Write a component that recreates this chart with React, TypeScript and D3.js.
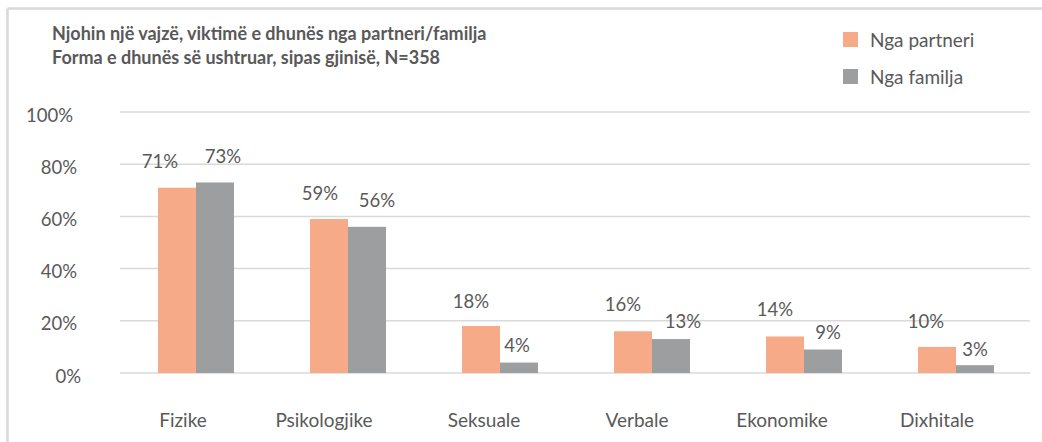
import React from "react";
import * as d3 from "d3";

const categories = ["Fizike", "Psikologjike", "Seksuale", "Verbale", "Ekonomike", "Dixhitale"];
const seriesNames = ["Nga partneri", "Nga familja"];
const partnerValues = [0.71, 0.59, 0.18, 0.16, 0.14, 0.10];
const familyValues = [0.73, 0.56, 0.04, 0.13, 0.09, 0.03];
const yTicks = [0, 0.2, 0.4, 0.6, 0.8, 1.0];
const titleLines = [
  "Njohin një vajzë, viktimë e dhunës nga partneri/familja",
  "Forma e dhunës së ushtruar, sipas gjinisë, N=358",
];

// label nudges (dx from bar centre, dy of baseline from bar top), as placed in the original
const partnerLabelNudge = [[-17, -20], [-9, -19], [-10, -18], [-10, -20], [-10, -20], [-11, -19]];
const familyLabelNudge = [[8, -19], [10, -20], [-2, -11], [12, -11], [5, -11], [0, -9]];
// category label horizontal nudges from band centre, as placed in the original
const categoryLabelNudge = [-13, -24, -16, -15, -22, -19];
// y tick label right edges
const tickLabelRight = [81, 77, 77, 77, 77, 73];

const W = 1042;
const H = 442;
const colors = ["#F7AA88", "#9C9E9F"];
const textColor = "#595959";
const gridColor = "#D9D9D9";
const font = "Lato, 'Open Sans', sans-serif";

export default function App() {
  const x = d3.scaleBand<string>().domain(categories).range([120, 1032]).paddingInner(0.5).paddingOuter(0.25);
  const xs = d3.scaleBand<string>().domain(seriesNames).range([0, x.bandwidth()]);
  const y = d3.scaleLinear().domain([0, 1]).range([373, 112]);
  const fmt = d3.format(".0%");
  const series = [partnerValues, familyValues];
  const nudges = [partnerLabelNudge, familyLabelNudge];

  return (
    <div style={{ position: "fixed", left: 0, top: 0 }}>
      <svg width={W} height={H} style={{ display: "block", background: "#fff" }}>
        {/* frame */}
        <line x1={7.5} x2={7.5} y1={8.5} y2={H} stroke={gridColor} strokeWidth={2.5} />
        <line x1={7.5} x2={W} y1={8.5} y2={8.5} stroke={gridColor} strokeWidth={2.5} />

        {/* title */}
        {titleLines.map((t, i) => (
          <text key={i} x={52} y={40 + i * 24} fontFamily={font} fontWeight={700} fontSize={18} fill={textColor}>
            {t}
          </text>
        ))}

        {/* grid + y labels */}
        {yTicks.map((t, i) => (
          <g key={t}>
            <line x1={120} x2={1030} y1={y(t)} y2={y(t)} stroke={gridColor} strokeWidth={1.5} />
            <text x={tickLabelRight[i]} y={y(t) + 9.5} textAnchor="end" fontFamily={font} fontSize={18.5} fill={textColor}>
              {fmt(t)}
            </text>
          </g>
        ))}

        {/* bars */}
        {series.map((vals, si) =>
          vals.map((v, ci) => {
            const cx = (x(categories[ci]) as number) + (xs(seriesNames[si]) as number);
            return (
              <rect
                key={`${si}-${ci}`}
                x={cx}
                y={y(v)}
                width={xs.bandwidth()}
                height={y(0) - y(v)}
                fill={colors[si]}
              />
            );
          })
        )}

        {/* data labels */}
        {series.map((vals, si) =>
          vals.map((v, ci) => {
            const cx = (x(categories[ci]) as number) + (xs(seriesNames[si]) as number) + xs.bandwidth() / 2;
            const [dx, dy] = nudges[si][ci];
            return (
              <text
                key={`l${si}-${ci}`}
                x={cx + dx}
                y={y(v) + dy}
                textAnchor="middle"
                fontFamily={font}
                fontSize={18.5}
                fill={textColor}
              >
                {fmt(v)}
              </text>
            );
          })
        )}

        {/* category labels */}
        {categories.map((c, i) => (
          <text
            key={c}
            x={(x(c) as number) + x.bandwidth() / 2 + categoryLabelNudge[i]}
            y={427}
            textAnchor="middle"
            fontFamily={font}
            fontSize={19}
            fill={textColor}
          >
            {c}
          </text>
        ))}

        {/* legend */}
        {seriesNames.map((s, i) => (
          <g key={s} transform={`translate(843, ${32 + i * 37})`}>
            <rect x={0} y={0} width={15} height={15} fill={colors[i]} />
            <text x={27} y={15} fontFamily={font} fontSize={19} fill={textColor}>
              {s}
            </text>
          </g>
        ))}
      </svg>
    </div>
  );
}
